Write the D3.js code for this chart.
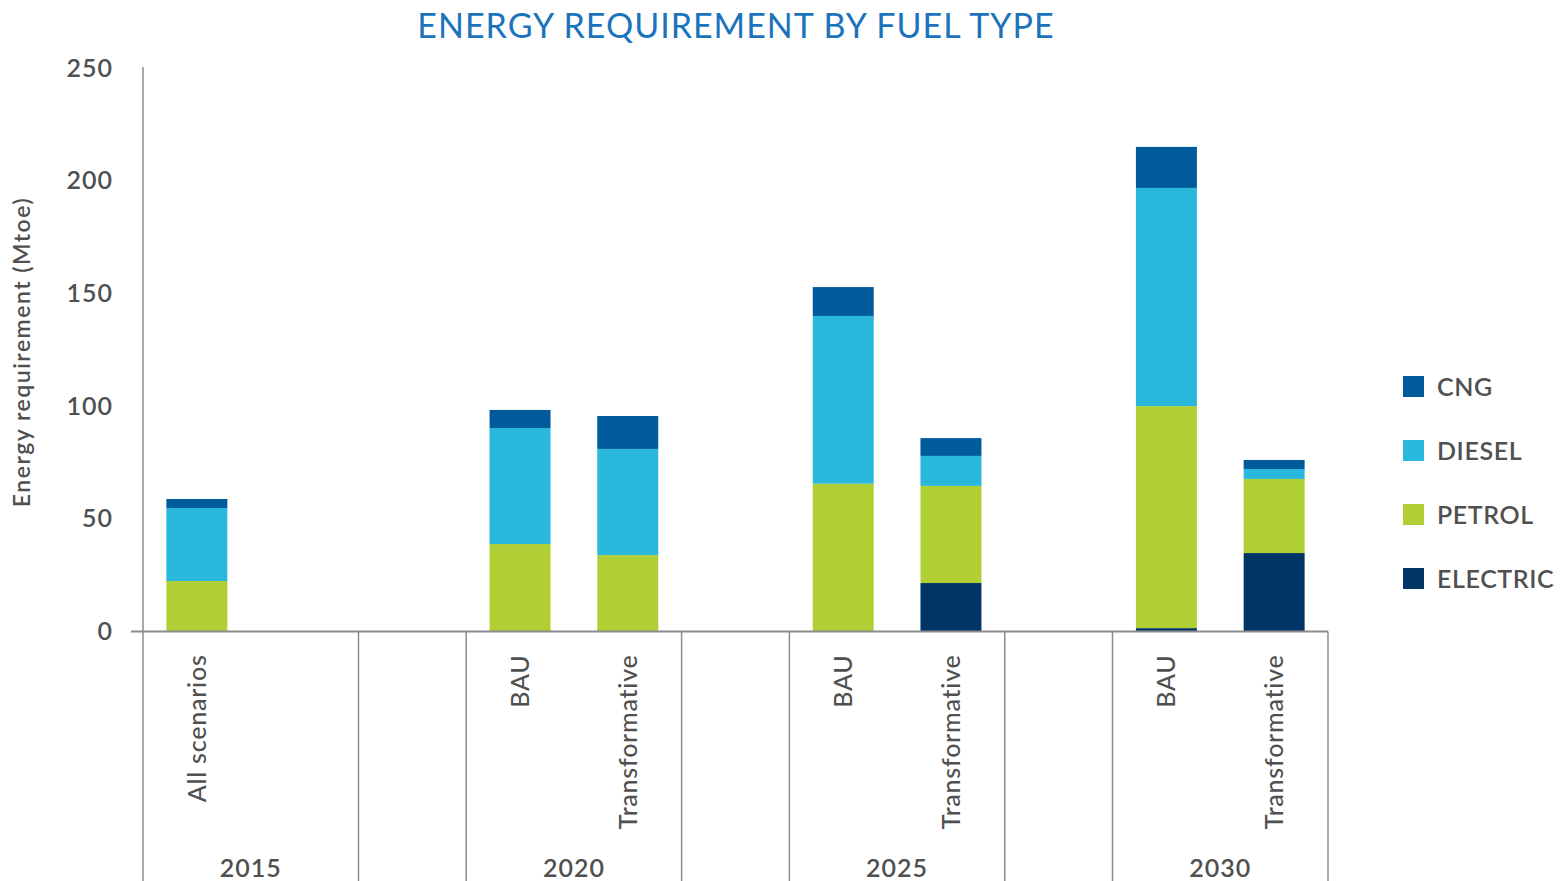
<!DOCTYPE html>
<html>
<head>
<meta charset="utf-8">
<script src="https://cdn.jsdelivr.net/npm/d3@7"></script>
<style>
  html, body { margin: 0; padding: 0; background: #fff; }
  svg { display: block; font-family: Lato, "Open Sans", sans-serif; }
</style>
</head>
<body>
<div id="chart"></div>
<script>
/* energy requirement by fuel type — stacked bars on a two-level category axis */

// category axis: year groups and the scenarios inside each group ('' = empty slot)
const years     = ['2015', '', '2020', '', '2025', '', '2030'];
const scenarios = [['All scenarios', ''], [''], ['BAU', 'Transformative'], [''], ['BAU', 'Transformative'], [''], ['BAU', 'Transformative']];

// series values (Mtoe), one per slot, left to right
const electric = [0,    0, 0, 0,    0,    0, 0,    21.5, 0, 1.5,  34.8];
const petrol   = [22.4, 0, 0, 38.8, 33.9, 0, 65.6, 43.1, 0, 98.5, 32.9];
const diesel   = [32.4, 0, 0, 51.5, 47.1, 0, 74.4, 13.3, 0, 96.8, 4.4];
const cng      = [4.0,  0, 0, 8.0,  14.6, 0, 12.8, 7.9,  0, 18.2, 4.0];

const fuelKeys   = ['ELECTRIC', 'PETROL', 'DIESEL', 'CNG'];
const fuelColors = ['#003566', '#b0cf34', '#29b7dc', '#005b9b'];
const legendOrder = ['CNG', 'DIESEL', 'PETROL', 'ELECTRIC'];
const yTicks = [0, 50, 100, 150, 200, 250];

const W = 1562, H = 881;
const M = { left: 143, right: 1328, top: 68, bottom: 631.5 };
const textCol = '#505050', axisCol = '#8c8c8c';

// flatten slots
const slots = [];
years.forEach((yr, gi) => scenarios[gi].forEach((sc, si) => slots.push({ id: slots.length, group: gi, year: yr, scenario: sc })));
const rows = slots.map((s, i) => ({ id: s.id, ELECTRIC: electric[i], PETROL: petrol[i], DIESEL: diesel[i], CNG: cng[i] }));

const svg = d3.select('#chart').append('svg').attr('width', W).attr('height', H);

const x = d3.scaleBand().domain(slots.map(d => d.id)).range([M.left, M.right]).paddingInner(0.434).paddingOuter(0.217);
const y = d3.scaleLinear().domain([0, 250]).range([M.bottom, M.top]);
const color = d3.scaleOrdinal().domain(fuelKeys).range(fuelColors);

/* --- title --- */
svg.append('text').attr('x', 736).attr('y', 38).attr('text-anchor', 'middle')
  .style('font-size', '34px').style('letter-spacing', '1px').style('fill', '#1b73bb')
  .text('ENERGY REQUIREMENT BY FUEL TYPE');

/* --- bars --- */
const stacked = d3.stack().keys(fuelKeys)(rows);
svg.append('g').selectAll('g').data(stacked).join('g').attr('fill', d => color(d.key))
  .selectAll('rect').data(d => d.filter(p => p[1] > p[0])).join('rect')
  .attr('x', d => x(d.data.id)).attr('width', x.bandwidth())
  .attr('y', d => y(d[1])).attr('height', d => y(d[0]) - y(d[1]));

/* --- y axis --- */
const yAxis = svg.append('g').attr('transform', `translate(${M.left},0)`)
  .call(d3.axisLeft(y).tickValues(yTicks).tickSize(0).tickPadding(30));
yAxis.select('.domain').remove();
yAxis.selectAll('text').style('font-size', '25px').style('font-weight', 600).style('fill', textCol)
  .style('letter-spacing', '1px').style('font-family', 'Lato, sans-serif');
svg.append('line').attr('x1', M.left).attr('x2', M.left).attr('y1', 67).attr('y2', H)
  .attr('stroke', axisCol).attr('stroke-width', 1.5);

svg.append('text').attr('transform', `translate(30,352) rotate(-90)`).attr('text-anchor', 'middle')
  .style('font-size', '23px').style('font-weight', 600).style('letter-spacing', '1.5px').style('fill', textCol)
  .text('Energy requirement (Mtoe)');

/* --- category axis --- */
svg.append('line').attr('x1', 131).attr('x2', M.right).attr('y1', M.bottom).attr('y2', M.bottom)
  .attr('stroke', axisCol).attr('stroke-width', 2);

const xAxis = svg.append('g').attr('transform', `translate(0,${M.bottom})`)
  .call(d3.axisBottom(x).tickSize(0).tickFormat(i => slots[i].scenario));
xAxis.select('.domain').remove();
xAxis.selectAll('text')
  .attr('transform', 'rotate(-90)').attr('y', 0).attr('x', -23).attr('dy', '0.36em')
  .attr('text-anchor', 'end')
  .style('font-size', '25px').style('font-weight', 500).style('letter-spacing', '0.75px').style('fill', textCol)
  .style('font-family', 'Lato, sans-serif');

// group separators + year labels
const groupEdges = years.map((yr, gi) => {
  const ids = slots.filter(s => s.group === gi).map(s => s.id);
  return { year: yr, x0: x(ids[0]) - x.step() * x.paddingInner() / 2, x1: x(ids[ids.length - 1]) + x.bandwidth() + x.step() * x.paddingInner() / 2 };
});
groupEdges[0].x0 = M.left;
groupEdges[groupEdges.length - 1].x1 = M.right;
const sep = Array.from(new Set(groupEdges.flatMap(g => [g.x0, g.x1]).map(v => Math.round(v * 10) / 10)));
svg.append('g').selectAll('line').data(sep.filter(v => v > M.left + 1)).join('line')
  .attr('x1', d => d).attr('x2', d => d).attr('y1', M.bottom).attr('y2', H)
  .attr('stroke', axisCol).attr('stroke-width', 1.5);
svg.append('g').selectAll('text').data(groupEdges.filter(g => g.year)).join('text')
  .attr('x', g => (g.x0 + g.x1) / 2).attr('y', 877).attr('text-anchor', 'middle')
  .style('font-size', '25px').style('font-weight', 600).style('letter-spacing', '1px').style('fill', textCol)
  .text(g => g.year);

/* --- legend --- */
const lg = svg.append('g').selectAll('g').data(legendOrder).join('g')
  .attr('transform', (d, i) => `translate(1403,${376 + i * 64})`);
lg.append('rect').attr('width', 21).attr('height', 21).attr('fill', d => color(d));
lg.append('text').attr('x', 34).attr('y', 11).attr('dy', '0.36em')
  .style('font-size', '25px').style('font-weight', 600).style('letter-spacing', '0.6px').style('fill', textCol)
  .text(d => d);
</script>
</body>
</html>
